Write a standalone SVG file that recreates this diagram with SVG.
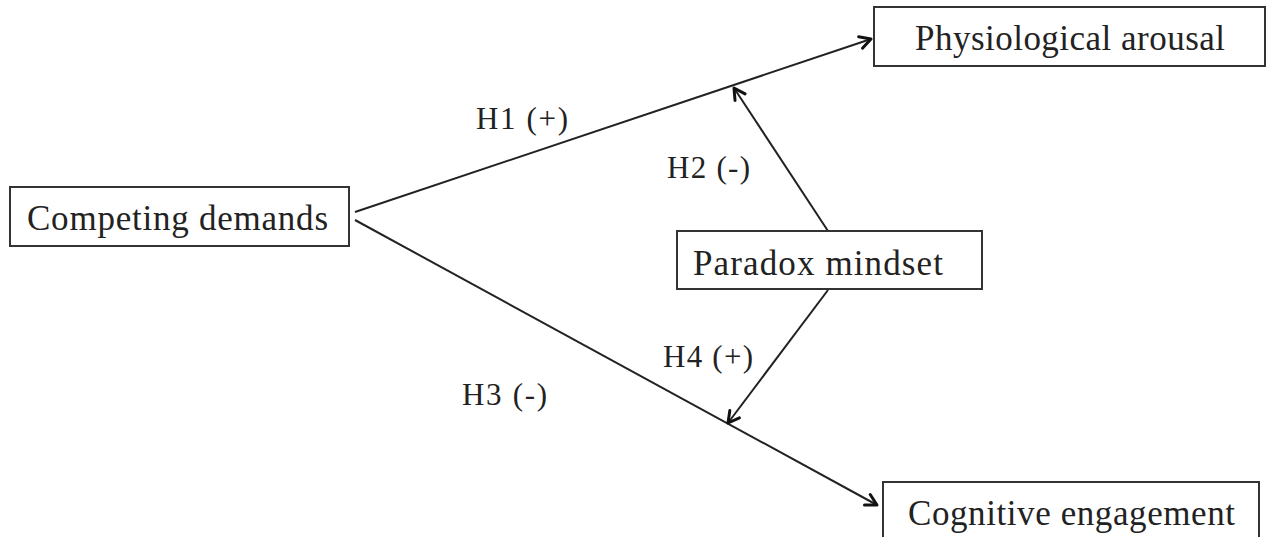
<svg xmlns="http://www.w3.org/2000/svg" width="1267" height="537" viewBox="0 0 1267 537">
<style>
.box{fill:#fff;stroke:#333;stroke-width:2}
.t{font-family:"Liberation Serif","DejaVu Serif",serif;font-size:35px;fill:#222}
.l{font-family:"Liberation Serif","DejaVu Serif",serif;font-size:31px;fill:#222}
.c{stroke:#222;stroke-width:2;fill:none}
</style>
<defs>
<marker id="ah" markerWidth="16" markerHeight="16" refX="13" refY="8" orient="auto" markerUnits="userSpaceOnUse">
<path d="M2,2 L13,8 L2,14" fill="none" stroke="#111" stroke-width="3" stroke-linecap="round" stroke-linejoin="round"/>
</marker>
</defs>
<g id="connectors">
<line class="c" x1="355" y1="212" x2="871" y2="39" marker-end="url(#ah)"/>
<line class="c" x1="355" y1="220" x2="877" y2="505" marker-end="url(#ah)"/>
<line class="c" x1="828" y1="231" x2="734" y2="88" marker-end="url(#ah)"/>
<line class="c" x1="828" y1="290" x2="728" y2="423" marker-end="url(#ah)"/>
<text class="l" x="476" y="129" textLength="92" lengthAdjust="spacing">H1 (+)</text>
<text class="l" x="667" y="178" textLength="83" lengthAdjust="spacing">H2 (-)</text>
<text class="l" x="663" y="367" textLength="90" lengthAdjust="spacing">H4 (+)</text>
<text class="l" x="462" y="405" textLength="85" lengthAdjust="spacing">H3 (-)</text>
</g>
<g id="physiological">
<rect class="box" x="874" y="7" width="391" height="59"/>
<text class="t" x="915" y="50" textLength="310" lengthAdjust="spacing">Physiological arousal</text>
</g>
<g id="competing">
<rect class="box" x="10" y="187" width="339" height="59"/>
<text class="t" x="27" y="230" textLength="301" lengthAdjust="spacing">Competing demands</text>
</g>
<g id="paradox">
<rect class="box" x="677" y="231" width="305" height="58"/>
<text class="t" x="693" y="275" textLength="250" lengthAdjust="spacing">Paradox mindset</text>
</g>
<g id="cognitive">
<rect class="box" x="883" y="482" width="376" height="70"/>
<text class="t" x="908" y="525" textLength="327" lengthAdjust="spacing">Cognitive engagement</text>
</g>
</svg>
